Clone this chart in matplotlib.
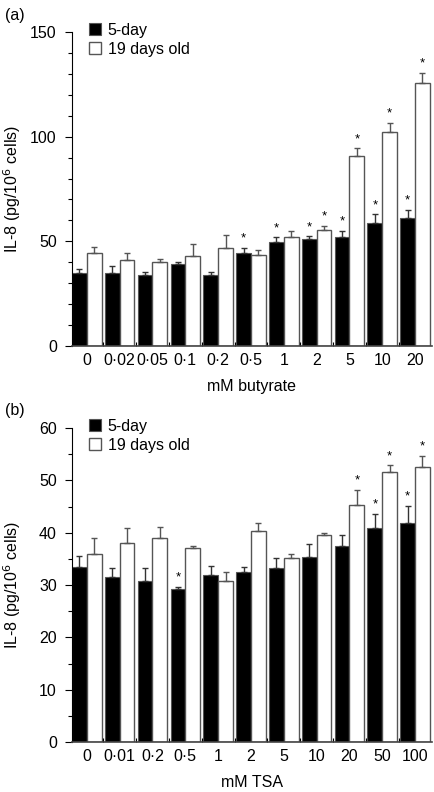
import numpy as np
import matplotlib.pyplot as plt
from matplotlib.ticker import MultipleLocator

plt.rcParams['font.family'] = ['Liberation Sans', 'DejaVu Sans']
plt.rcParams['font.size'] = 11.5

# Panel (a): butyrate
but_labels = ['0', '0·02', '0·05', '0·1', '0·2', '0·5', '1', '2', '5', '10', '20']
but_5d = [35, 35, 34, 39, 34, 44.5, 49.5, 51, 52, 59, 61]
but_5d_err = [2, 3, 1.5, 1, 1.5, 2.5, 2.5, 1.5, 3, 4, 4]
but_19d = [44.5, 41, 40, 43, 47, 43.5, 52, 55.5, 91, 102, 125.5]
but_19d_err = [3, 3.5, 1.5, 5.5, 6, 2.5, 3, 2, 3.5, 4.5, 5]
but_5d_sig = [5, 6, 7, 8, 9, 10]
but_19d_sig = [7, 8, 9, 10]

# Panel (b): TSA
tsa_labels = ['0', '0·01', '0·2', '0·5', '1', '2', '5', '10', '20', '50', '100']
tsa_5d = [33.5, 31.5, 30.7, 29.2, 32, 32.5, 33.2, 35.3, 37.4, 40.8, 41.8]
tsa_5d_err = [2, 1.7, 2.5, 0.5, 1.7, 1, 2, 2.5, 2.2, 2.8, 3.3]
tsa_19d = [36, 38, 39, 37, 30.7, 40.3, 35.2, 39.6, 45.2, 51.6, 52.5]
tsa_19d_err = [3, 2.9, 2, 0.5, 1.7, 1.5, 0.8, 0.3, 3, 1.3, 2.2]
tsa_5d_sig = [3, 9, 10]
tsa_19d_sig = [8, 9, 10]

fig = plt.figure(figsize=(4.34, 7.92), dpi=100)
ax_a = fig.add_axes([0.166, 0.5631, 0.829, 0.3965])
ax_b = fig.add_axes([0.166, 0.0631, 0.829, 0.3965])

w = 0.45


def draw_panel(ax, labels, v5, e5, v19, e19, sig5, sig19, ymax, major, minor, xlabel, star_off):
    x = np.arange(len(labels))
    ax.bar(x - w / 2, v5, w, color='black', edgecolor='#555555', linewidth=0.8, label='5-day')
    ax.bar(x + w / 2, v19, w, color='white', edgecolor='#555555', linewidth=1.0, label='19 days old')
    ax.errorbar(x - w / 2, v5, yerr=[np.zeros(len(e5)), e5], fmt='none',
                ecolor='#333333', elinewidth=1, capsize=2.5, capthick=1)
    ax.errorbar(x + w / 2, v19, yerr=[np.zeros(len(e19)), e19], fmt='none',
                ecolor='#555555', elinewidth=1, capsize=2.5, capthick=1)
    for i in sig5:
        ax.text(x[i] - w / 2, v5[i] + e5[i] + star_off, '*', ha='center', va='bottom', fontsize=9.5)
    for i in sig19:
        ax.text(x[i] + w / 2, v19[i] + e19[i] + star_off, '*', ha='center', va='bottom', fontsize=9.5)

    ax.set_xlim(-w, len(labels) - 1 + w + 0.06)
    ax.set_ylim(0, ymax)
    ax.yaxis.set_major_locator(MultipleLocator(major))
    ax.yaxis.set_minor_locator(MultipleLocator(minor))
    ax.set_xticks(x)
    ax.set_xticklabels(labels)
    ax.set_xticks(x[:-1] + 0.5, minor=True)
    ax.tick_params(axis='x', which='major', length=0, pad=5)
    ax.tick_params(axis='x', which='minor', direction='in', length=3, width=0.8)
    ax.tick_params(axis='y', which='major', length=5, width=0.8, pad=6)
    ax.tick_params(axis='y', which='minor', length=3, width=0.8)
    ax.spines['top'].set_visible(False)
    ax.spines['right'].set_visible(False)
    ax.spines['left'].set_linewidth(0.8)
    ax.spines['bottom'].set_linewidth(1.2)
    ax.spines['bottom'].set_color('#444444')
    ax.set_ylabel('IL-8 (pg/10$^{6}$ cells)')
    ax.yaxis.set_label_coords(-0.135, 0.5)
    ax.set_xlabel(xlabel, labelpad=8)
    ax.legend(loc='upper left', bbox_to_anchor=(0.015, 1.065), frameon=False,
              handlelength=0.75, handleheight=0.75, handletextpad=0.45,
              labelspacing=0.25, borderaxespad=0.3)


draw_panel(ax_a, but_labels, but_5d, but_5d_err, but_19d, but_19d_err,
           but_5d_sig, but_19d_sig, 150, 50, 10, 'mM butyrate', 1.5)
draw_panel(ax_b, tsa_labels, tsa_5d, tsa_5d_err, tsa_19d, tsa_19d_err,
           tsa_5d_sig, tsa_19d_sig, 60, 10, 5, 'mM TSA', 0.6)

fig.text(0.012, 0.98, '(a)', va='center')
fig.text(0.012, 0.482, '(b)', va='center')

fig.savefig('out.png', dpi=100)
